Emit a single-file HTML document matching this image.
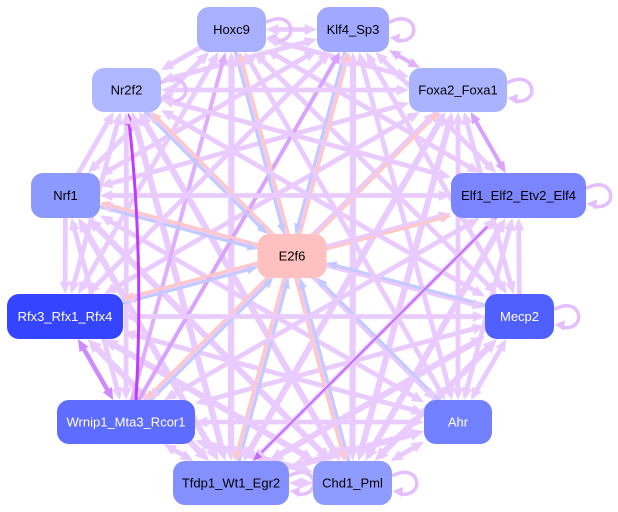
<!DOCTYPE html>
<html>
<head>
<meta charset="utf-8">
<style>
html,body{margin:0;padding:0;background:#fff;}
svg{display:block;}
#edges line,#edges2 line{stroke:#EACBFF;stroke-width:4.8;}
#edges line.t,#edges2 line.t{stroke-width:6.2;}
#ce line{stroke-width:3;}
</style>
</head>
<body>
<svg id="g" xmlns="http://www.w3.org/2000/svg" width="618" height="512" viewBox="0 0 618 512">
<rect width="618" height="512" fill="#fff"/>
<g id="edges" fill="none">
<line class="b" x1="231.5" y1="29.5" x2="353" y2="29.5"/>
<line class="b" x1="231.5" y1="29.5" x2="458" y2="90"/>
<line class="b" x1="231.5" y1="29.5" x2="518.5" y2="195.5"/>
<line class="b" x1="231.5" y1="29.5" x2="519.5" y2="316.5"/>
<line class="b t" x1="231.5" y1="29.5" x2="352.5" y2="483"/>
<line class="b t" x1="231.5" y1="29.5" x2="231" y2="483"/>
<line class="b" x1="231.5" y1="29.5" x2="65" y2="316.5"/>
<line class="b" x1="231.5" y1="29.5" x2="65.5" y2="195.5"/>
<line class="f" x1="231.5" y1="29.5" x2="126.5" y2="90"/>
<line class="b" x1="353" y1="29.5" x2="518.5" y2="195.5"/>
<line class="b" x1="353" y1="29.5" x2="519.5" y2="316.5"/>
<line class="b" x1="353" y1="29.5" x2="458" y2="422"/>
<line class="b t" x1="353" y1="29.5" x2="352.5" y2="483"/>
<line class="b t" x1="353" y1="29.5" x2="231" y2="483"/>
<line class="b" x1="353" y1="29.5" x2="65.5" y2="195.5"/>
<line class="b" x1="353" y1="29.5" x2="126.5" y2="90"/>
<line class="b" x1="458" y1="90" x2="519.5" y2="316.5"/>
<line class="b" x1="458" y1="90" x2="458" y2="422"/>
<line class="b t" x1="458" y1="90" x2="352.5" y2="483"/>
<line class="b t" x1="458" y1="90" x2="231" y2="483"/>
<line class="b" x1="458" y1="90" x2="126" y2="422"/>
<line class="b" x1="458" y1="90" x2="65" y2="316.5"/>
<line class="b" x1="458" y1="90" x2="65.5" y2="195.5"/>
<line class="r" x1="518.5" y1="195.5" x2="519.5" y2="316.5"/>
<line class="b" x1="518.5" y1="195.5" x2="458" y2="422"/>
<line class="b t" x1="518.5" y1="195.5" x2="352.5" y2="483"/>
<line class="b" x1="518.5" y1="195.5" x2="231" y2="483"/>
<line class="b" x1="518.5" y1="195.5" x2="65" y2="316.5"/>
<line class="b" x1="519.5" y1="316.5" x2="458" y2="422"/>
<line class="b t" x1="519.5" y1="316.5" x2="352.5" y2="483"/>
<line class="b t" x1="519.5" y1="316.5" x2="231" y2="483"/>
<line class="b" x1="519.5" y1="316.5" x2="126" y2="422"/>
<line class="b" x1="519.5" y1="316.5" x2="65.5" y2="195.5"/>
<line class="b" x1="458" y1="422" x2="352.5" y2="483"/>
<line class="b t" x1="458" y1="422" x2="231" y2="483"/>
<line class="b" x1="458" y1="422" x2="65" y2="316.5"/>
<line class="b" x1="458" y1="422" x2="65.5" y2="195.5"/>
<line class="b" x1="458" y1="422" x2="126.5" y2="90"/>
<line class="b" x1="352.5" y1="483" x2="231" y2="483"/>
<line class="b t" x1="352.5" y1="483" x2="126" y2="422"/>
<line class="b t" x1="352.5" y1="483" x2="65" y2="316.5"/>
<line class="b t" x1="352.5" y1="483" x2="65.5" y2="195.5"/>
<line class="b t" x1="352.5" y1="483" x2="126.5" y2="90"/>
<line class="b" x1="231" y1="483" x2="126" y2="422"/>
<line class="b t" x1="231" y1="483" x2="65" y2="316.5"/>
<line class="b t" x1="231" y1="483" x2="65.5" y2="195.5"/>
<line class="b t" x1="231" y1="483" x2="126.5" y2="90"/>
<line class="b" x1="126" y1="422" x2="65.5" y2="195.5"/>
<line class="b" x1="126" y1="422" x2="126.5" y2="90"/>
<line class="f" x1="65.5" y1="195.5" x2="65" y2="316.5"/>
<line class="b" x1="65" y1="316.5" x2="126.5" y2="90"/>
<line class="f" x1="65.5" y1="195.5" x2="126.5" y2="90"/>
<line class="f" style="stroke:#DFAEFF;stroke-width:4" x1="126" y1="422" x2="231.5" y2="29.5"/>
<line class="f" style="stroke:#D9A2FF;stroke-width:4" x1="126" y1="422" x2="353" y2="29.5"/>
<line class="b" style="stroke:#E0B2FF;stroke-width:4" x1="353" y1="29.5" x2="458" y2="90"/>
<line class="b" style="stroke:#D9A0FF;stroke-width:4" x1="458" y1="90" x2="518.5" y2="195.5"/>
<line class="b" style="stroke:#D08AFF;stroke-width:4.5" x1="126" y1="422" x2="65" y2="316.5"/>
</g>
<g id="ce" fill="none">
<line class="o f" stroke="#FFC8C8" x1="292" y1="256" x2="231.5" y2="29.5"/>
<line class="o f" stroke="#FFC8C8" x1="292" y1="256" x2="353" y2="29.5"/>
<line class="o f" stroke="#FFC8C8" x1="292" y1="256" x2="126.5" y2="90"/>
<line class="o f" stroke="#FFC8C8" x1="292" y1="256" x2="65.5" y2="195.5"/>
<line class="o f" stroke="#FFC8C8" x1="292" y1="256" x2="65" y2="316.5"/>
<line class="o f" stroke="#FFC8C8" x1="292" y1="256" x2="126" y2="422"/>
<line class="o f" stroke="#FFC8C8" x1="292" y1="256" x2="231" y2="483"/>
<line class="o f" stroke="#FFC8C8" x1="292" y1="256" x2="352.5" y2="483"/>
<line class="o f" stroke="#FFC8C8" x1="292" y1="256" x2="458" y2="90"/>
<line class="o f" stroke="#FFC8C8" x1="292" y1="256" x2="518.5" y2="195.5"/>
<line class="o f" stroke="#C3CAFF" x1="231.5" y1="29.5" x2="292" y2="256"/>
<line class="o f" stroke="#C3CAFF" x1="353" y1="29.5" x2="292" y2="256"/>
<line class="o f" stroke="#C3CAFF" x1="126.5" y1="90" x2="292" y2="256"/>
<line class="o f" stroke="#C3CAFF" x1="65.5" y1="195.5" x2="292" y2="256"/>
<line class="o f" stroke="#C3CAFF" x1="65" y1="316.5" x2="292" y2="256"/>
<line class="o f" stroke="#C3CAFF" x1="126" y1="422" x2="292" y2="256"/>
<line class="o f" stroke="#C3CAFF" x1="231" y1="483" x2="292" y2="256"/>
<line class="o f" stroke="#C3CAFF" x1="352.5" y1="483" x2="292" y2="256"/>
<line class="o f" stroke="#C3CAFF" x1="458" y1="422" x2="292" y2="256"/>
<line class="o f" stroke="#C3CAFF" x1="519.5" y1="316.5" x2="292" y2="256"/>
</g>
<g id="edges2" fill="none">
<line class="b" x1="231.5" y1="29.5" x2="458" y2="422"/>
<line class="b" x1="353" y1="29.5" x2="65" y2="316.5"/>
<line class="b" x1="458" y1="90" x2="126.5" y2="90"/>
<line class="b" x1="518.5" y1="195.5" x2="126" y2="422"/>
<line class="b" x1="518.5" y1="195.5" x2="65.5" y2="195.5"/>
<line class="b" x1="518.5" y1="195.5" x2="126.5" y2="90"/>
<line class="b" x1="519.5" y1="316.5" x2="65" y2="316.5"/>
<line class="b" x1="519.5" y1="316.5" x2="126.5" y2="90"/>
<line class="b" x1="458" y1="422" x2="126" y2="422"/>
<line class="f" style="stroke:#C46CFF;stroke-width:2" x1="518.5" y1="195.5" x2="231" y2="483"/>
</g>
<g id="special">
<path d="M136,400 Q144,256 129,121" fill="none" stroke="#BC3CFF" stroke-width="3"/>
<polygon points="128.5,113 134.2,124.4 125.2,125.4" fill="#BC3CFF"/>
</g>
<g id="loops" fill="none" stroke="#E4BEFF" stroke-width="3.5">
<path d="M266,22.5 C294,7.5 300,43.5 275,40.5"/>
<path d="M389,22.5 C417,7.5 423,43.5 398,40.5"/>
<path d="M161,83 C189,68 195,104 170,101"/>
<path d="M507,83 C535,68 541,104 516,101"/>
<path d="M586,188.5 C614,173.5 620,209.5 595,206.5"/>
<path d="M554,309.5 C582,294.5 588,330.5 563,327.5"/>
<path d="M392,476 C420,461 426,497 401,494"/>
<path d="M289,476 C317,461 323,497 298,494"/>
</g>
<g id="loopar" fill="#E4BEFF">
<polygon points="266.5,37.5 277,33.5 276,43.5"/>
<polygon points="389.5,37.5 400,33.5 399,43.5"/>
<polygon points="161.5,98 172,94 171,104"/>
<polygon points="507.5,98 518,94 517,104"/>
<polygon points="586.5,203.5 597,199.5 596,209.5"/>
<polygon points="554.5,324.5 565,320.5 564,330.5"/>
<polygon points="392.5,491 403,487 402,497"/>
<polygon points="289.5,491 300,487 299,497"/>
</g>
<g id="arr"></g>
<g id="nodes" font-family="'Liberation Sans', Arial, sans-serif" font-size="13" text-anchor="middle">
<rect x="197" y="7" width="69" height="45" rx="12" fill="#A9B0FF"/>
<text x="231.5" y="34" fill="#000">Hoxc9</text>
<rect x="317" y="7" width="72" height="45" rx="12" fill="#A0A8FF"/>
<text x="353" y="34" fill="#000">Klf4_Sp3</text>
<rect x="409" y="68" width="98" height="44" rx="12" fill="#AAB3FF"/>
<text x="458" y="94.5" fill="#000">Foxa2_Foxa1</text>
<rect x="451" y="173" width="135" height="45" rx="12" fill="#7B85FF"/>
<text x="518.5" y="200" fill="#000">Elf1_Elf2_Etv2_Elf4</text>
<rect x="485" y="294" width="69" height="45" rx="12" fill="#5060FF"/>
<text x="519.5" y="321" fill="#fff">Mecp2</text>
<rect x="424" y="400" width="68" height="44" rx="12" fill="#7080FF"/>
<text x="458" y="426.5" fill="#fff">Ahr</text>
<rect x="313" y="461" width="79" height="44" rx="12" fill="#8F9BFF"/>
<text x="352.5" y="487.5" fill="#000">Chd1_Pml</text>
<rect x="173" y="461" width="116" height="44" rx="12" fill="#8590FF"/>
<text x="231" y="487.5" fill="#000">Tfdp1_Wt1_Egr2</text>
<rect x="57" y="400" width="138" height="44" rx="12" fill="#5E6CFF"/>
<text x="126" y="426.5" fill="#fff">Wrnip1_Mta3_Rcor1</text>
<rect x="7" y="294" width="116" height="45" rx="12" fill="#3545FF"/>
<text x="65" y="321" fill="#fff">Rfx3_Rfx1_Rfx4</text>
<rect x="31" y="173" width="69" height="45" rx="12" fill="#8C99FF"/>
<text x="65.5" y="200" fill="#000">Nrf1</text>
<rect x="92" y="68" width="69" height="44" rx="12" fill="#AFB8FF"/>
<text x="126.5" y="94.5" fill="#000">Nr2f2</text>
<rect x="257.5" y="234" width="69" height="44" rx="12" fill="#FFC0C0"/>
<text x="292" y="260.5" fill="#000">E2f6</text>
</g>
</svg>
<script>
(function(){
var NS='http://www.w3.org/2000/svg';
var N=[[231.5,29.5,69,45],[353,29.5,72,45],[458,90,98,44],[518.5,195.5,135,45],[519.5,316.5,69,45],[458,422,68,44],[352.5,483,79,44],[231,483,116,44],[126,422,138,44],[65,316.5,116,45],[65.5,195.5,69,45],[126.5,90,69,44],[292,256,69,44]];
function find(x,y){for(var i=0;i<N.length;i++){if(Math.abs(N[i][0]-x)<1&&Math.abs(N[i][1]-y)<1)return N[i];}return null;}
function clip(n,ox,oy,ux,uy){var hw=n[2]/2,hh=n[3]/2,t=1e9,s;
 if(Math.abs(ux)>1e-6){s=ux>0?1:-1;t=Math.min(t,(hw-ox*s)/Math.abs(ux));}
 if(Math.abs(uy)>1e-6){s=uy>0?1:-1;t=Math.min(t,(hh-oy*s)/Math.abs(uy));}
 return [n[0]+ox+ux*t,n[1]+oy+uy*t];}
var A=document.getElementById('arr');
function arrow(tip,ux,uy,len,hw,col){
 var bx=tip[0]-ux*len,by=tip[1]-uy*len,px=-uy*hw,py=ux*hw;
 var p=document.createElementNS(NS,'polygon');
 p.setAttribute('points',tip[0]+','+tip[1]+' '+(bx+px)+','+(by+py)+' '+(bx-px)+','+(by-py));
 p.setAttribute('fill',col);A.appendChild(p);
 return [bx+ux*1.5,by+uy*1.5];}
var ls=document.querySelectorAll('#edges line, #ce line, #edges2 line');
for(var i=0;i<ls.length;i++){
 var l=ls[i];
 var x1=+l.getAttribute('x1'),y1=+l.getAttribute('y1'),x2=+l.getAttribute('x2'),y2=+l.getAttribute('y2');
 var a=find(x1,y1),b=find(x2,y2); if(!a||!b)continue;
 var dx=x2-x1,dy=y2-y1,L=Math.sqrt(dx*dx+dy*dy),ux=dx/L,uy=dy/L;
 var off=l.classList.contains('o')?2.2:0, ox=-uy*off, oy=ux*off;
 var cs=getComputedStyle(l), w=parseFloat(cs.strokeWidth)||4, col=cs.stroke;
 var len=7+w*1.1, hw=2.5+w*0.6;
 var nx1=x1+ox,ny1=y1+oy,nx2=x2+ox,ny2=y2+oy;
 if(l.classList.contains('f')||l.classList.contains('b')){
  var tp=clip(b,ox,oy,-ux,-uy); var e=arrow(tp,ux,uy,len,hw,col); nx2=e[0];ny2=e[1];}
 if(l.classList.contains('r')||l.classList.contains('b')){
  var tp2=clip(a,ox,oy,ux,uy); var e2=arrow(tp2,-ux,-uy,len,hw,col); nx1=e2[0];ny1=e2[1];}
 l.setAttribute('x1',nx1);l.setAttribute('y1',ny1);l.setAttribute('x2',nx2);l.setAttribute('y2',ny2);
}
})();
</script>
</body>
</html>
